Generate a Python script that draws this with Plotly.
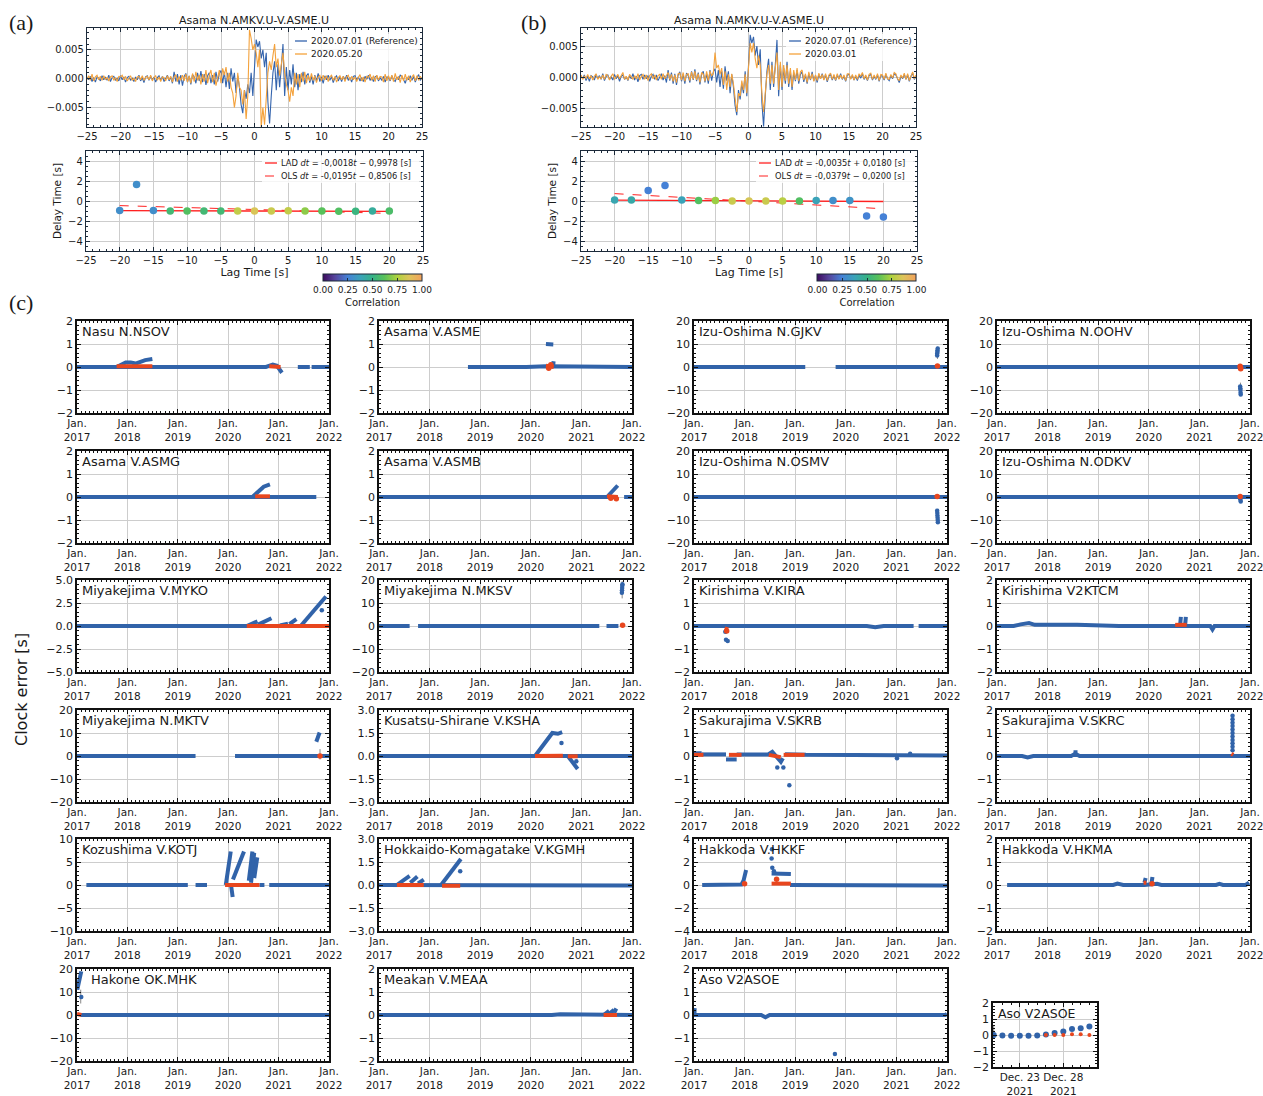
import plotly.graph_objects as go

W, H = 1263, 1096


def px(x):
    return x / W


def py(y):
    return 1 - y / H


# ---------------- (a)/(b) waveform data (units of 1e-3) ----------------
LAG_STEP = 0.25
REF_20200701 = [
    0.3, -0.2, 0.4, -0.5, 0.2, -0.6, 0.3, 0.1, -0.4, 0.5, -0.2, 0.3, -0.3, 0.6, -0.5, 0.2,
    0.4, -0.3, 0.1, -0.4, 0.5, -0.2, 0.3, -0.6, 0.2, 0.4, -0.3, 0.1, -0.5, 0.3, -0.2, 0.6,
    -0.4, 0.2, -0.7, 0.3, 0.5, -0.3, 0.4, -0.2, 0.3, -0.6, 0.2, 0.5, -0.3, 0.4, -0.5, 0.2,
    0.6, -0.4, 0.3, -0.8, 1.2, -0.5, 0.8, -1.0, 0.6, -1.2, 0.4, 0.9, -0.6, 0.5, -1.0, 0.7,
    0.3, -0.8, 1.0, -0.4, 1.3, -0.6, 0.8, -1.1, 0.5, 1.0, -0.8, 0.6, -1.0, 1.2, -0.5, 0.9,
    1.4, -0.8, 1.2, -1.5, 1.0, -1.8, 1.8, -0.5, 1.0, -2.5, 0.5, -1.5, -4.5, -6.0, -2.0, -3.5,
    -1.0, -2.5, 1.0, -3.0, 2.0, 6.8, 5.5, 6.5, 3.5, 5.0, 2.0, 4.5, -4.0, -7.8, -3.0, 1.0,
    3.0, -2.0, 2.5, -1.5, 2.0, 6.0, -3.0, 2.0, -2.0, 1.5, -1.0, 2.5, -1.5, 1.0, -2.0, 0.8,
    -0.6, 1.2, -1.0, 0.5, 0.9, -0.7, 0.4, -1.0, 0.6, -0.4, 0.9, -0.5, 0.3, -0.8, 0.5, -0.2,
    0.6, -0.3, 0.4, -0.7, 0.2, 0.5, -0.4, 0.3, -0.5, 0.4, -0.2, 0.6, -0.3, 0.2, -0.6, 0.4,
    0.5, -0.2, 0.3, -0.4, 0.2, -0.5, 0.4, -0.1, 0.6, -0.3, 0.2, -0.5, 0.3, 0.5, -0.4, 0.2,
    -0.3, 0.4, -0.6, 0.3, 0.2, -0.4, 0.5, -0.2, -0.5, 0.3, -0.2, 0.6, 0.4, -0.3, -0.8, 0.2,
    -0.2, 0.5, -0.3, 0.4, -0.6, 0.2, 0.7, -0.3, 0.2,
]
A_20200520 = [
    -0.2, 0.5, -0.3, 0.8, -0.4, 0.3, 0.6, -0.2, 0.4, -0.3, 0.5, -0.1, 0.2, -0.4, 0.3, 0.5,
    -0.3, 0.2, -0.5, 0.4, 0.3, 0.6, -0.2, 0.4, -0.4, 0.2, 0.5, -0.3, 0.1, -0.5, 0.3, 0.4,
    -0.2, 0.5, -0.3, 0.2, 0.4, -0.2, 0.6, -0.4, 0.2, 0.5, -0.3, 0.3, -0.5, 0.3, 0.2, -0.4,
    0.5, -0.2, 0.4, -0.6, 0.3, 0.7, -0.5, 0.4, -0.3, 0.6, -0.4, 0.8, -0.6, 0.5, -0.8, 0.9,
    -0.5, 1.2, -0.3, 0.6, -1.0, 0.8, -0.5, 1.5, -0.8, 0.6, 1.5, -0.6, 1.0, -1.2, 0.5, 1.5,
    -0.8, 1.8, 0.6, 2.0, -0.5, 1.0, -1.5, -2.5, -5.0, -3.0, 1.0, -1.5, -2.0, -4.5, -2.0, -7.0,
    -3.0, 8.5, 7.0, 5.0, 6.0, 4.5, 2.0, 5.0, -8.5, -5.0, -8.0, -3.0, 1.0, 3.0, 1.5, 4.0,
    6.0, 2.0, 3.5, 0.5, 2.5, 4.5, 1.0, -1.0, -2.0, -4.0, -1.5, -3.0, 1.0, -1.0, 0.8, -1.5,
    1.0, -0.5, 1.2, -0.8, 0.6, -0.4, 0.9, -0.3, 0.5, -0.7, 0.3, 0.6, -0.4, 0.6, -0.2, 0.5,
    -0.5, 0.3, 0.6, -0.3, 0.4, -0.6, 0.2, 0.5, -0.2, 0.4, -0.5, 0.3, 0.6, -0.3, 0.4, -0.2,
    0.3, -0.5, 0.2, 0.7, -0.4, 0.3, -0.6, 0.4, 0.2, 0.8, -0.3, 0.5, -0.5, 0.6, -0.2, 0.4,
    0.3, -0.6, 0.8, -0.4, 0.5, -0.3, 0.6, -0.5, 0.9, -0.2, 0.4, -0.7, 0.6, -0.4, 0.8, -0.3,
    0.5, -0.6, 0.3, 0.7, -0.4, 0.5, -0.3, 0.4, -0.2,
]
B_20200301 = [
    0.4, -0.3, 0.2, -0.1, 0.5, -0.2, 0.3, -0.4, 0.2, 0.6, -0.3, 0.1, -0.2, 0.4, -0.3, 0.5,
    0.3, -0.4, 0.2, 0.6, -0.3, 0.2, 0.5, -0.2, 0.4, 0.8, -0.3, 0.2, -0.4, 0.5, 0.1, -0.3,
    0.3, -0.2, 0.6, -0.4, 0.2, 0.5, -0.3, 0.4, -0.5, 0.3, 0.6, -0.2, 0.4, -0.4, 0.3, 0.5,
    -0.3, 0.6, -0.2, 0.4, 0.8, -0.3, 0.5, -0.6, 0.4, -0.8, 0.6, 0.7, -0.4, 0.8, -0.6, 0.5,
    0.6, -0.5, 0.9, -0.3, 1.0, -0.4, 0.6, -0.8, 0.8, 0.5, -0.6, 1.0, -0.5, 1.0, 0.3, 0.6,
    4.0, 1.5, 2.0, 0.5, 1.5, -1.2, 1.0, -2.0, 0.5, -1.5, 0.6, -1.0, -3.5, -5.5, -2.5, -3.0,
    -0.5, -2.0, 0.5, -2.5, 1.5, 5.5, 4.0, 5.5, 3.0, 1.5, 3.5, 2.0, -2.5, -5.5, -2.5, 0.5,
    2.0, -1.0, 2.0, -1.0, 1.5, 4.0, -2.0, 2.5, -1.5, 2.0, -0.5, 2.0, -1.0, 1.5, -1.5, 1.2,
    -0.4, 1.5, -0.6, 0.9, 1.2, -0.4, 0.6, -0.8, 0.9, -0.3, 0.6, -0.6, 0.4, -0.5, 0.7, -0.2,
    0.5, -0.4, 0.6, -0.5, 0.4, 0.7, -0.3, 0.5, -0.4, 0.6, -0.3, 0.4, -0.2, 0.4, -0.5, 0.6,
    0.6, -0.3, 0.5, -0.4, 0.4, -0.3, 0.6, 0.2, 0.8, -0.2, 0.4, -0.4, 0.5, 0.7, -0.3, 0.4,
    -0.2, 0.6, -0.5, 0.5, 0.4, -0.3, 0.7, -0.2, -0.3, 0.5, -0.1, 0.8, 0.6, -0.2, -0.5, 0.4,
    -0.1, 0.7, -0.3, 0.6, -0.5, 0.4, 0.9, -0.2, 0.4,
]

# ---------------- delay-time data ----------------
DELAY_LAG = [-20, -17.5, -15, -12.5, -10, -7.5, -5, -2.5, 0, 2.5, 5, 7.5, 10, 12.5, 15, 17.5, 20]
A_DELAY = [-0.95, 1.65, -0.95, -1.0, -1.0, -1.0, -1.0, -1.0, -1.0, -1.0, -0.98, -1.0, -1.0, -1.02, -1.02, -1.0, -1.0]
A_CORR = [0.30, 0.30, 0.30, 0.55, 0.60, 0.55, 0.55, 0.80, 0.86, 0.82, 0.80, 0.70, 0.62, 0.60, 0.52, 0.45, 0.58]
B_DELAY = [0.1, 0.1, 1.05, 1.55, 0.1, 0.05, 0.05, 0.0, 0.0, 0.0, 0.0, 0.0, 0.05, 0.05, 0.05, -1.5, -1.6]
B_CORR = [0.40, 0.42, 0.25, 0.25, 0.38, 0.60, 0.72, 0.82, 0.85, 0.82, 0.78, 0.60, 0.38, 0.30, 0.32, 0.25, 0.25]
FIT_X = [-20, 20]
A_LAD_Y = [-0.962, -1.034]
A_OLS_Y = [-0.461, -1.241]
B_LAD_Y = [0.088, -0.052]
B_OLS_Y = [0.738, -0.778]

# ---------------- (c) clock-error data ----------------
NSOV_BLUE = [("2017-01-01", 0), ("2020-10-01", 0), ("2020-11-20", 0.1), ("2020-12-20", 0.05), ("2021-01-25", -0.25), None,
             ("2021-05-20", 0), ("2021-08-15", 0), None, ("2021-08-28", 0), ("2022-01-01", 0), None,
             ("2017-10-15", 0), ("2017-12-20", 0.2), ("2018-01-25", 0.2), ("2018-03-01", 0.15), ("2018-05-10", 0.3), ("2018-07-01", 0.35)]
NSOV_RED = [("2017-10-15", 0.03), ("2018-07-01", 0.03), None, ("2020-10-25", 0.03), ("2021-01-15", 0.0)]

ASME_BLUE = [("2018-10-05", 0), ("2019-06-01", 0), ("2019-09-01", -0.03), ("2019-12-01", 0), ("2020-04-20", 0.03), ("2022-01-01", 0), None,
             ("2020-04-20", 1.0), ("2020-06-12", 0.98), None, ("2020-06-10", 0), ("2020-06-14", 0.25)]
ASME_RED = [("2020-04-20", 0.05), ("2020-06-15", 0.0)]
ASME_RDOT = [("2020-05-10", -0.05), ("2020-05-25", 0.1)]

GJKV_BLUE = [("2017-01-01", 0), ("2019-03-15", 0), None, ("2019-10-20", 0), ("2022-01-01", 0)]
GJKV_BDOT = [("2021-10-22", 5.0), ("2021-10-22", 5.8), ("2021-10-24", 6.5), ("2021-10-24", 7.2), ("2021-10-26", 8.0)]
GJKV_RDOT = [("2021-10-24", 0.4)]
GJKV_ERR = [("2021-10-24", 3.5), ("2021-10-24", 8.8)]

OOHV_BLUE = [("2017-01-01", 0), ("2022-01-01", 0)]
OOHV_BDOT = [("2021-10-22", -8.5), ("2021-10-23", -9.2), ("2021-10-24", -10.0), ("2021-10-25", -11.2), ("2021-10-26", -12.0)]
OOHV_RDOT = [("2021-10-22", 0.3), ("2021-10-24", -0.4), ("2021-10-26", -0.8)]
OOHV_ERR = [("2021-10-24", -6.8), ("2021-10-24", -12.5)]

ASMG_BLUE = [("2017-01-01", 0), ("2021-10-01", 0), None, ("2020-06-25", 0), ("2020-09-15", 0.45), ("2020-10-30", 0.55)]
ASMG_RED = [("2020-07-15", 0.03), ("2020-10-30", 0.03)]

ASMB_BLUE = [("2017-01-01", 0), ("2021-09-20", 0), None, ("2021-11-05", 0), ("2022-01-01", 0), None,
             ("2021-07-05", 0), ("2021-08-20", 0.3), ("2021-09-20", 0.5)]
ASMB_RED = [("2021-07-05", 0.03), ("2021-09-20", 0.0)]
ASMB_RDOT = [("2021-08-01", -0.05), ("2021-09-10", -0.08)]

OSMV_BLUE = [("2017-01-01", 0), ("2022-01-01", 0)]
OSMV_BDOT = [("2021-10-22", -6.0), ("2021-10-23", -7.0), ("2021-10-24", -8.0), ("2021-10-25", -9.0), ("2021-10-26", -10.0), ("2021-10-27", -11.0)]
OSMV_RDOT = [("2021-10-22", 0.2)]

ODKV_BLUE = [("2017-01-01", 0), ("2022-01-01", 0)]
ODKV_BDOT = [("2021-10-22", -0.5), ("2021-10-24", -1.2), ("2021-10-26", -2.0)]
ODKV_RDOT = [("2021-10-22", 0.2)]

MYKO_BLUE = [("2017-01-01", 0), ("2022-01-01", 0), None, ("2020-05-15", 0), ("2020-08-01", 0.5), None,
             ("2020-08-05", 0.15), ("2020-11-10", 0.85), None, ("2021-01-10", 0.05), ("2021-03-10", 0.25), None,
             ("2021-03-20", 0.2), ("2021-05-10", 0.75), None, ("2021-06-10", 0.0), ("2021-12-10", 3.2)]
MYKO_BDOT = [("2021-11-10", 1.7)]
MYKO_RED = [("2020-05-15", 0), ("2022-01-01", 0)]

MKSV_BLUE = [("2017-01-01", 0), ("2017-08-10", 0), None, ("2017-10-10", 0), ("2021-05-10", 0), None, ("2021-07-01", 0), ("2021-09-25", 0)]
MKSV_BDOT = [("2021-10-20", 14.5), ("2021-10-21", 15.5), ("2021-10-22", 16.5), ("2021-10-23", 17.5), ("2021-10-24", 18.2)]
MKSV_RDOT = [("2021-10-25", 0.3)]
MKSV_ERR = [("2021-10-22", 12.0), ("2021-10-22", 19.5)]

KIRA_BLUE = [("2017-01-01", 0), ("2017-07-20", 0), ("2017-09-10", -0.03), ("2020-06-01", 0), ("2020-08-01", -0.05), ("2020-10-01", 0),
             ("2021-05-05", 0), None, ("2021-06-10", 0), ("2022-01-01", 0)]
KIRA_BDOT = [("2017-08-15", -0.25), ("2017-08-20", -0.6), ("2017-09-01", -0.65)]
KIRA_RED = [("2017-08-10", -0.1), ("2017-09-05", -0.15)]
KIRA_RDOT = [("2017-08-25", -0.22)]

KTCM_BLUE = [("2017-01-01", 0), ("2017-05-01", 0), ("2017-06-20", 0.07), ("2017-08-20", 0.13), ("2017-10-01", 0.05), ("2018-08-01", 0.05),
             ("2019-06-01", 0.0), ("2021-03-20", 0), ("2021-04-05", -0.15), ("2021-04-20", 0), ("2022-01-01", 0), None,
             ("2020-08-15", 0.05), ("2020-08-20", 0.4), None, ("2020-09-20", 0.05), ("2020-09-25", 0.4)]
KTCM_RED = [("2020-07-10", 0.05), ("2020-10-01", 0.05)]

MKTV_BLUE = [("2017-01-01", 0), ("2019-05-10", 0), None, ("2020-02-20", 0), ("2022-01-01", 0), None, ("2021-10-01", 6.2), ("2021-10-25", 10.2)]
MKTV_RDOT = [("2021-10-28", 0)]
MKTV_ERR = [("2021-10-28", -1.5), ("2021-10-28", 3.0)]

KSHA_BLUE = [("2017-01-01", 0), ("2022-01-01", 0), None, ("2020-02-01", 0), ("2020-06-05", 1.5), ("2020-07-15", 1.45), ("2020-08-15", 1.55), None,
             ("2020-09-25", 0), ("2020-12-05", -0.85)]
KSHA_BDOT = [("2020-08-10", 0.85), ("2020-11-25", -0.35)]
KSHA_RED = [("2020-02-01", 0), ("2020-08-20", 0.02), None, ("2020-09-25", -0.02), ("2020-12-05", -0.02)]

SKRB_BLUE = [("2017-01-01", 0.12), ("2017-02-25", 0.12), None, ("2017-02-25", 0.07), ("2017-08-20", 0.07), None,
             ("2017-08-20", -0.15), ("2017-11-05", -0.15), None, ("2017-11-05", 0.07), ("2018-06-20", 0.07), ("2018-07-20", 0.18),
             ("2018-08-10", 0.05), ("2018-09-01", -0.1), ("2018-09-20", -0.25), ("2018-10-05", -0.1), None,
             ("2018-10-20", 0.08), ("2019-03-20", 0.05), ("2022-01-01", 0.02)]
SKRB_BDOT = [("2018-08-25", -0.5), ("2018-10-08", -0.5), ("2018-11-20", -1.27), ("2021-01-05", -0.1), ("2021-04-10", 0.1)]
SKRB_RED = [("2017-01-01", 0.05), ("2017-03-10", 0.05), None, ("2017-09-10", 0.05), ("2017-12-10", 0.05), None,
            ("2018-06-25", 0.05), ("2018-09-20", -0.05), None, ("2018-10-10", 0.05), ("2019-03-10", 0.05)]

SKRC_BLUE = [("2017-01-01", 0), ("2017-07-01", 0), ("2017-08-10", -0.06), ("2017-09-20", 0), ("2018-06-20", 0), ("2018-07-20", 0.1),
             ("2018-08-20", 0.0), ("2022-01-01", 0), None, ("2018-07-20", 0), ("2018-07-22", 0.25)]
SKRC_BDOT = [("2021-08-28", 0.25), ("2021-08-28", 0.4), ("2021-08-28", 0.55), ("2021-08-28", 0.7), ("2021-08-28", 0.85), ("2021-08-28", 1.0),
             ("2021-08-28", 1.15), ("2021-08-28", 1.3), ("2021-08-28", 1.45), ("2021-08-28", 1.6), ("2021-08-28", 1.75)]
SKRC_RED = [("2021-08-20", 0.1), ("2021-09-02", 0.05)]

KOTJ_BLUE = [("2017-03-10", 0), ("2019-03-15", 0), None, ("2019-05-10", 0), ("2019-08-01", 0), None, ("2019-12-15", 0), ("2020-08-10", 0), None,
             ("2020-08-15", 0), ("2020-09-20", 0), None, ("2020-10-25", 0), ("2022-01-01", 0), None,
             ("2019-12-15", 0), ("2020-01-20", 7.3), None, ("2020-01-22", 0), ("2020-02-03", -2.6), None,
             ("2020-02-05", 1.2), ("2020-04-25", 7.3), None, ("2020-05-30", 0.9), ("2020-06-25", 7.3), None,
             ("2020-06-15", 0.5), ("2020-07-08", 7.0), None, ("2020-07-08", 1.5), ("2020-07-30", 6.0)]
KOTJ_RED = [("2019-12-10", 0), ("2020-08-15", 0)]

KGMH_BLUE = [("2017-01-01", 0), ("2018-08-20", 0), ("2018-09-01", -0.05), ("2022-01-01", -0.03), None,
             ("2017-05-10", 0), ("2017-08-10", 0.6), None, ("2017-08-15", 0.15), ("2017-10-05", 0.55), None,
             ("2017-10-10", 0.1), ("2017-11-20", 0.35), None, ("2018-03-25", 0), ("2018-08-15", 1.7)]
KGMH_BDOT = [("2018-08-10", 0.9)]
KGMH_RED = [("2017-05-10", 0), ("2017-11-20", 0), None, ("2018-04-01", -0.05), ("2018-08-10", -0.05)]

HKKF_BLUE = [("2017-03-01", 0), ("2017-12-10", 0.05), ("2017-12-25", 0.4), ("2018-01-12", 1.3), None,
             ("2018-07-15", 1.0), ("2018-12-01", 0.95), None, ("2018-11-25", 0), ("2022-01-01", -0.05)]
HKKF_BDOT = [("2018-07-15", 2.3), ("2018-07-18", 3.1), ("2018-07-20", 1.5), ("2018-08-01", 1.2)]
HKKF_RED = [("2018-07-15", 0.12), ("2018-12-01", 0.12)]
HKKF_RDOT = [("2018-01-01", 0.1), ("2018-08-20", 0.5)]

HKMA_BLUE = [("2017-03-15", 0), ("2019-04-20", 0), ("2019-05-20", 0.06), ("2019-07-01", 0), ("2019-12-01", 0), ("2020-03-01", 0.05),
             ("2020-04-01", 0.0), ("2021-05-01", 0), ("2021-05-25", 0.05), ("2021-06-20", 0), ("2021-12-01", 0), ("2021-12-25", 0.1), None,
             ("2019-12-01", 0.1), ("2019-12-10", 0.3), None, ("2020-01-20", 0.05), ("2020-01-28", 0.35)]
HKMA_RED = [("2019-11-25", 0.1), ("2019-12-15", 0.1)]
HKMA_RDOT = [("2020-01-25", 0.05)]

MHK_BLUE = [("2017-01-03", 11), ("2017-02-01", 19), None, ("2017-01-25", 0), ("2022-01-01", 0)]
MHK_BDOT = [("2017-02-01", 7.8)]
MHK_RED = [("2017-01-01", 0.5), ("2017-02-01", 0)]
MHK_ERR = [("2017-01-28", 5), ("2017-01-28", 11)]

MEAA_BLUE = [("2017-01-01", 0), ("2018-06-01", 0), ("2018-08-01", -0.03), ("2019-06-01", 0), ("2020-06-01", 0), ("2020-08-01", 0.03),
             ("2022-01-01", 0), None, ("2021-06-10", 0), ("2021-07-20", 0.18), None, ("2021-07-20", 0.05), ("2021-08-25", 0.22), None,
             ("2021-08-25", 0.1), ("2021-09-10", 0.28)]
MEAA_RED = [("2021-06-10", 0), ("2021-09-15", 0)]

ASOE_BLUE = [("2017-01-01", 0), ("2018-05-01", 0), ("2018-06-01", -0.1), ("2018-07-01", 0), ("2021-12-20", 0), ("2022-01-01", 0.05), None,
             ("2017-01-04", 0), ("2017-01-06", 0.3)]
ASOE_BDOT = [("2019-10-15", -1.7)]

INSET_DAYS = ["2021-12-20", "2021-12-21", "2021-12-22", "2021-12-23", "2021-12-24", "2021-12-25",
              "2021-12-26", "2021-12-27", "2021-12-28", "2021-12-29", "2021-12-30", "2021-12-31"]
INSET_BLUE = [0.0, -0.03, -0.05, -0.05, -0.05, -0.03, 0.03, 0.12, 0.22, 0.37, 0.42, 0.53]
INSET_RED_DAYS = ["2021-12-26", "2021-12-27", "2021-12-28", "2021-12-29", "2021-12-30", "2021-12-31"]
INSET_RED = [0.0, 0.0, 0.0, 0.05, 0.05, 0.0]

YEAR_TICKS = ["2017-01-01", "2018-01-01", "2019-01-01", "2020-01-01", "2021-01-01", "2022-01-01"]
YEAR_TEXT = ["Jan.<br>2017", "Jan.<br>2018", "Jan.<br>2019", "Jan.<br>2020", "Jan.<br>2021", "Jan.<br>2022"]

# (title, row, col, ymin, ymax, dtick, fmt, blue, blue_dots, red, red_dots, err)
STATIONS = [
    ("Nasu N.NSOV", 0, 0, -2, 2, 1, "", NSOV_BLUE, [], NSOV_RED, [], []),
    ("Asama V.ASME", 0, 1, -2, 2, 1, "", ASME_BLUE, [], ASME_RED, ASME_RDOT, []),
    ("Izu-Oshima N.GJKV", 0, 2, -20, 20, 10, "", GJKV_BLUE, GJKV_BDOT, [], GJKV_RDOT, GJKV_ERR),
    ("Izu-Oshima N.OOHV", 0, 3, -20, 20, 10, "", OOHV_BLUE, OOHV_BDOT, [], OOHV_RDOT, OOHV_ERR),
    ("Asama V.ASMG", 1, 0, -2, 2, 1, "", ASMG_BLUE, [], ASMG_RED, [], []),
    ("Asama V.ASMB", 1, 1, -2, 2, 1, "", ASMB_BLUE, [], ASMB_RED, ASMB_RDOT, []),
    ("Izu-Oshima N.OSMV", 1, 2, -20, 20, 10, "", OSMV_BLUE, OSMV_BDOT, [], OSMV_RDOT, []),
    ("Izu-Oshima N.ODKV", 1, 3, -20, 20, 10, "", ODKV_BLUE, ODKV_BDOT, [], ODKV_RDOT, []),
    ("Miyakejima V.MYKO", 2, 0, -5, 5, 2.5, ".1f", MYKO_BLUE, MYKO_BDOT, MYKO_RED, [], []),
    ("Miyakejima N.MKSV", 2, 1, -20, 20, 10, "", MKSV_BLUE, MKSV_BDOT, [], MKSV_RDOT, MKSV_ERR),
    ("Kirishima V.KIRA", 2, 2, -2, 2, 1, "", KIRA_BLUE, KIRA_BDOT, KIRA_RED, KIRA_RDOT, []),
    ("Kirishima V2KTCM", 2, 3, -2, 2, 1, "", KTCM_BLUE, [], KTCM_RED, [], []),
    ("Miyakejima N.MKTV", 3, 0, -20, 20, 10, "", MKTV_BLUE, [], [], MKTV_RDOT, MKTV_ERR),
    ("Kusatsu-Shirane V.KSHA", 3, 1, -3, 3, 1.5, ".1f", KSHA_BLUE, KSHA_BDOT, KSHA_RED, [], []),
    ("Sakurajima V.SKRB", 3, 2, -2, 2, 1, "", SKRB_BLUE, SKRB_BDOT, SKRB_RED, [], []),
    ("Sakurajima V.SKRC", 3, 3, -2, 2, 1, "", SKRC_BLUE, SKRC_BDOT, SKRC_RED, [], []),
    ("Kozushima V.KOTJ", 4, 0, -10, 10, 5, "", KOTJ_BLUE, [], KOTJ_RED, [], []),
    ("Hokkaido-Komagatake V.KGMH", 4, 1, -3, 3, 1.5, ".1f", KGMH_BLUE, KGMH_BDOT, KGMH_RED, [], []),
    ("Hakkoda V.HKKF", 4, 2, -4, 4, 2, "", HKKF_BLUE, HKKF_BDOT, HKKF_RED, HKKF_RDOT, []),
    ("Hakkoda V.HKMA", 4, 3, -2, 2, 1, "", HKMA_BLUE, [], HKMA_RED, HKMA_RDOT, []),
    ("Hakone OK.MHK", 5, 0, -20, 20, 10, "", MHK_BLUE, MHK_BDOT, MHK_RED, [], MHK_ERR),
    ("Meakan V.MEAA", 5, 1, -2, 2, 1, "", MEAA_BLUE, [], MEAA_RED, [], []),
    ("Aso V2ASOE", 5, 2, -2, 2, 1, "", ASOE_BLUE, ASOE_BDOT, [], [], []),
]

# ---------------- styling ----------------
BLUE = "#3163a9"
RED = "#e8461e"
WAVE_BLUE = "#3464ad"
WAVE_ORANGE = "#f4a23c"
FIT_RED = "#ff2020"
NAVY = "#1c2a3a"
GRID = "#cdcdcd"
FONT = "DejaVu Sans"
CORR_SCALE = [[0.0, "#3d0a5e"], [0.12, "#55449c"], [0.25, "#4581d6"], [0.38, "#3aa3b8"], [0.5, "#35b286"],
              [0.62, "#58c15a"], [0.75, "#aed23e"], [0.87, "#ddc45a"], [1.0, "#f2a15c"]]

COL_X = [(77, 329), (379, 632), (694, 947), (997, 1250)]
ROW_Y = [(321, 413), (451, 543), (580, 672), (710, 802), (839, 931), (969, 1061)]

layout = dict(width=W, height=H, margin=dict(l=0, r=0, t=0, b=0, autoexpand=False), paper_bgcolor="white",
              plot_bgcolor="white", font=dict(family=FONT, color="#1a1a1a", size=11), showlegend=False, hovermode=False)
annotations = []
shapes = []
fig = go.Figure()
counter = [0]


def axis_style(color, lw, size, minor_dtick):
    return dict(showline=True, linecolor=color, linewidth=lw, mirror="allticks", ticks="inside", ticklen=4,
                tickwidth=1, tickcolor=color, showgrid=True, gridcolor=GRID, gridwidth=1, zeroline=False,
                ticklabeloverflow="allow",
                tickfont=dict(size=size, family=FONT, color="#1a1a1a"),
                minor=dict(ticks="inside", ticklen=2, tickcolor=color, showgrid=False, dtick=minor_dtick))


def new_axes(box_x, box_y, xa, ya):
    counter[0] += 1
    s = "" if counter[0] == 1 else str(counter[0])
    layout["xaxis" + s] = dict(domain=[px(box_x[0]), px(box_x[1])], anchor="y" + s, **xa)
    layout["yaxis" + s] = dict(domain=[py(box_y[1]), py(box_y[0])], anchor="x" + s, **ya)
    return "x" + s, "y" + s


def seg(seq):
    xs, ys = [], []
    for p in seq:
        if p is None:
            xs.append(None)
            ys.append(None)
        else:
            xs.append(p[0])
            ys.append(p[1])
    return xs, ys


def legend_box(x0, y0, x1, y1, items, size):
    # white translucent background, then short line samples and labels
    shapes.append(dict(type="rect", xref="paper", yref="paper", x0=px(x0), x1=px(x1), y0=py(y1), y1=py(y0),
                       fillcolor="rgba(255,255,255,0.8)", line=dict(width=0), layer="above"))
    for i, (label, color, dash, width) in enumerate(items):
        yy = y0 + 7 + 13 * i
        shapes.append(dict(type="line", xref="paper", yref="paper", x0=px(x0 + 3), x1=px(x0 + 15), y0=py(yy), y1=py(yy),
                           line=dict(color=color, width=width, dash=dash), layer="above"))
        annotations.append(dict(text=label, x=px(x0 + 17), y=py(yy), xref="paper", yref="paper", xanchor="left",
                                yanchor="middle", showarrow=False, font=dict(size=size, family=FONT)))


# ---------------- (a) and (b) ----------------
def top_pair(left, box_top_x, box_bot_x, comp, comp_name, yr, delay, corr, lad, ols, lad_txt, ols_txt, cb_x,
             leg_top_x, leg_bot_x):
    lag = [-25 + LAG_STEP * i for i in range(len(REF_20200701))]
    lag2 = [-25 + LAG_STEP * i for i in range(len(comp))]
    xa = axis_style(NAVY, 1.3, 10, 1)
    xa.update(range=[-25, 25], dtick=5, tick0=-25)
    ya = axis_style(NAVY, 1.3, 10, 1)
    ya.update(range=yr, tickmode="array", tickvals=[-5, 0, 5], ticktext=["\u22120.005", "0.000", "0.005"])
    xr, yrf = new_axes(box_top_x, (28, 127), xa, ya)
    fig.add_trace(go.Scatter(x=lag, y=REF_20200701, mode="lines", line=dict(color=WAVE_BLUE, width=1.1),
                             name="2020.07.01 (Reference)", xaxis=xr, yaxis=yrf))
    fig.add_trace(go.Scatter(x=lag2, y=comp, mode="lines", line=dict(color=WAVE_ORANGE, width=1.1),
                             name=comp_name, xaxis=xr, yaxis=yrf))
    annotations.append(dict(text="Asama N.AMKV.U-V.ASME.U", x=px((box_top_x[0] + box_top_x[1]) / 2), y=py(20),
                            xref="paper", yref="paper", xanchor="center", yanchor="middle", showarrow=False,
                            font=dict(size=11, family=FONT)))
    legend_box(leg_top_x, 34, box_top_x[1] - 2, 61,
               [("2020.07.01 (Reference)", WAVE_BLUE, "solid", 1.3), (comp_name, WAVE_ORANGE, "solid", 1.3)], 9)
    xb = axis_style(NAVY, 1.3, 10, 1)
    xb.update(range=[-25, 25], dtick=5, tick0=-25,
              title=dict(text="Lag Time [s]", font=dict(size=11, family=FONT), standoff=2))
    yb = axis_style(NAVY, 1.3, 10, 0.5)
    yb.update(range=[-5, 5], dtick=2, tick0=-4,
              title=dict(text="Delay Time [s]", font=dict(size=10.5, family=FONT), standoff=4))
    xr2, yr2 = new_axes(box_bot_x, (151, 251), xb, yb)
    fig.add_trace(go.Scatter(x=FIT_X, y=lad, mode="lines", line=dict(color=FIT_RED, width=1.3),
                             name=lad_txt, xaxis=xr2, yaxis=yr2))
    fig.add_trace(go.Scatter(x=FIT_X, y=ols, mode="lines", line=dict(color=FIT_RED, width=1, dash="dash"),
                             name=ols_txt, xaxis=xr2, yaxis=yr2))
    fig.add_trace(go.Scatter(x=DELAY_LAG, y=delay, mode="markers", xaxis=xr2, yaxis=yr2,
                             marker=dict(size=7.5, color=corr, colorscale=CORR_SCALE, cmin=0, cmax=1, showscale=True,
                                         colorbar=dict(orientation="h", x=px(cb_x), xanchor="center", y=py(274),
                                                       yanchor="top", len=99, lenmode="pixels", thickness=7,
                                                       thicknessmode="pixels", outlinewidth=1, outlinecolor=NAVY,
                                                       ticks="inside", ticklen=3, tickcolor=NAVY,
                                                       tickvals=[0, 0.25, 0.5, 0.75, 1.0], tickformat=".2f",
                                                       tickfont=dict(size=9, family=FONT), xpad=0, ypad=0,
                                                       title=dict(text="Correlation", side="bottom",
                                                                  font=dict(size=10, family=FONT))))))
    legend_box(leg_bot_x, 156, box_bot_x[1] - 2, 183,
               [(lad_txt, FIT_RED, "solid", 1.3), (ols_txt, FIT_RED, "dash", 1)], 8.3)
    annotations.append(dict(text=left[0], x=px(left[1]), y=py(22), xref="paper", yref="paper", xanchor="left",
                            yanchor="middle", showarrow=False, font=dict(size=22, family="Liberation Serif")))


top_pair(("(a)", 7), (87, 422), (86, 423), A_20200520, "2020.05.20", [-8.4, 8.8], A_DELAY, A_CORR, A_LAD_Y, A_OLS_Y,
         "LAD <i>dt</i> = -0,0018<i>t</i> \u2212 0,9978 [s]", "OLS <i>dt</i> = -0,0195<i>t</i> \u2212 0,8506 [s]",
         372.5, 292, 262)
top_pair(("(b)", 519), (581, 916), (581, 917), B_20200301, "2020.03.01", [-7.9, 7.9], B_DELAY, B_CORR, B_LAD_Y, B_OLS_Y,
         "LAD <i>dt</i> = -0,0035<i>t</i> + 0,0180 [s]", "OLS <i>dt</i> = -0,0379<i>t</i> \u2212 0,0200 [s]",
         867, 786, 756)

# ---------------- (c) ----------------
for (title, r, c, ymin, ymax, dt, fmt, blue, bdot, red, rdot, err) in STATIONS:
    xa = axis_style("#111111", 1.6, 10.5, "M1")
    xa.update(type="date", range=["2017-01-01", "2022-01-01"], tickmode="array", tickvals=YEAR_TICKS, ticktext=YEAR_TEXT)
    xa["minor"].update(tick0="2017-01-01")
    ya = axis_style("#111111", 1.6, 11, dt / 5)
    ya.update(range=[ymin, ymax], dtick=dt, tick0=ymin)
    if fmt:
        ya["tickformat"] = fmt
    xr, yr = new_axes(COL_X[c], ROW_Y[r], xa, ya)
    if err:
        ex, ey = seg(err)
        fig.add_trace(go.Scatter(x=ex, y=ey, mode="lines", line=dict(color="#888888", width=1), xaxis=xr, yaxis=yr))
    if blue:
        bx, by = seg(blue)
        fig.add_trace(go.Scatter(x=bx, y=by, mode="lines", line=dict(color=BLUE, width=4), xaxis=xr, yaxis=yr,
                                 connectgaps=False))
    if bdot:
        bx, by = seg(bdot)
        fig.add_trace(go.Scatter(x=bx, y=by, mode="markers", marker=dict(color=BLUE, size=4.5), xaxis=xr, yaxis=yr))
    if red:
        rx, ry = seg(red)
        fig.add_trace(go.Scatter(x=rx, y=ry, mode="lines", line=dict(color=RED, width=4), xaxis=xr, yaxis=yr,
                                 connectgaps=False))
    if rdot:
        rx, ry = seg(rdot)
        fig.add_trace(go.Scatter(x=rx, y=ry, mode="markers", marker=dict(color=RED, size=5.5), xaxis=xr, yaxis=yr))
    offset = 12 if title.startswith("Hakone") else 3
    annotations.append(dict(text=title, x=px(COL_X[c][0] + offset), y=py(ROW_Y[r][0] + 1), xref="paper", yref="paper",
                            xanchor="left", yanchor="top", showarrow=False, font=dict(size=13, family=FONT)))

# inset Aso
xa = axis_style("#111111", 1.6, 10.5, 86400000)
xa.update(type="date", range=["2021-12-19 22:00", "2021-12-31 21:00"], tickmode="array",
          tickvals=["2021-12-23", "2021-12-28"], ticktext=["Dec. 23<br>2021", "Dec. 28<br>2021"])
xa["minor"].update(tick0="2021-12-20")
ya = axis_style("#111111", 1.6, 11, 0.2)
ya.update(range=[-2, 2], dtick=1, tick0=-2)
xr, yr = new_axes((993, 1097), (1003, 1067), xa, ya)
fig.add_trace(go.Scatter(x=["2021-12-20", "2021-12-20"], y=[0, 0.6], mode="lines", line=dict(color="#888888", width=1),
                         xaxis=xr, yaxis=yr))
fig.add_trace(go.Scatter(x=INSET_DAYS, y=INSET_BLUE, mode="markers", marker=dict(color=BLUE, size=6), xaxis=xr, yaxis=yr))
fig.add_trace(go.Scatter(x=INSET_RED_DAYS, y=INSET_RED, mode="markers", marker=dict(color=RED, size=4), xaxis=xr, yaxis=yr))
annotations.append(dict(text="Aso V2ASOE", x=px(996), y=py(1004), xref="paper", yref="paper", xanchor="left",
                        yanchor="top", showarrow=False, font=dict(size=12.5, family=FONT)))

annotations.append(dict(text="(c)", x=px(7), y=py(302), xref="paper", yref="paper", xanchor="left", yanchor="middle",
                        showarrow=False, font=dict(size=22, family="Liberation Serif")))
annotations.append(dict(text="Clock error [s]", x=px(21), y=py(690), xref="paper", yref="paper", xanchor="center",
                        yanchor="middle", textangle=-90, showarrow=False, font=dict(size=16, family=FONT)))

layout["annotations"] = annotations
layout["shapes"] = shapes
fig.update_layout(**layout)
fig.write_html("out.html", config={"displayModeBar": False},
               post_script="document.body.style.margin='0px';document.body.style.overflow='hidden';")
